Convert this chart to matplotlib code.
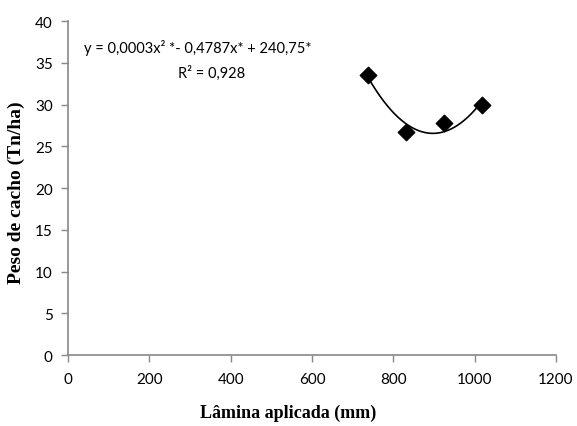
import numpy as np
import matplotlib
matplotlib.use("Agg")
import matplotlib.pyplot as plt

lamina = [738, 830, 924, 1017]
peso = [33.6, 26.7, 27.8, 30.0]
xticks = [0, 200, 400, 600, 800, 1000, 1200]
yticks = [0, 5, 10, 15, 20, 25, 30, 35, 40]
eq_text = "y = 0,0003x² *- 0,4787x* + 240,75*"
r2_text = "R² = 0,928"

fig = plt.figure(figsize=(5.77, 4.27), dpi=100)
ax = fig.add_axes([0.118, 0.166, 0.8456, 0.782])

coef = np.polyfit(lamina, peso, 2)
xs = np.linspace(min(lamina), max(lamina), 200)
ax.plot(xs, np.polyval(coef, xs), color="black", lw=1.2, zorder=2)
ax.scatter(lamina, peso, marker="D", s=70, color="black", zorder=3)

ax.set_xlim(0, 1200)
ax.set_ylim(0, 40)
ax.set_xticks(xticks)
ax.set_yticks(yticks)
tickfont = "Lato"
for lab in ax.get_xticklabels() + ax.get_yticklabels():
    lab.set_fontfamily(tickfont)
    lab.set_fontsize(11)
ax.tick_params(direction="out", length=5, color="#888888", labelcolor="black", width=1)
ax.tick_params(axis="x", pad=7)
ax.tick_params(axis="y", pad=6)
for s in ["top", "right"]:
    ax.spines[s].set_visible(False)
for s in ["left", "bottom"]:
    ax.spines[s].set_color("#888888")
    ax.spines[s].set_linewidth(1.2)

ax.set_xlabel("Lâmina aplicada (mm)", family="Liberation Serif", weight="bold", fontsize=13)
ax.xaxis.set_label_coords(0.452, -0.145)
ax.set_ylabel("Peso de cacho (Tn/ha)", family="Liberation Serif", weight="bold", fontsize=14)
ax.yaxis.set_label_coords(-0.088, 0.49)

ax.text(318, 36.9, eq_text, family=tickfont, fontsize=10.5, ha="center", va="center")
ax.text(352, 33.9, r2_text, family=tickfont, fontsize=10.5, ha="center", va="center")

fig.savefig("out.png", dpi=100)
